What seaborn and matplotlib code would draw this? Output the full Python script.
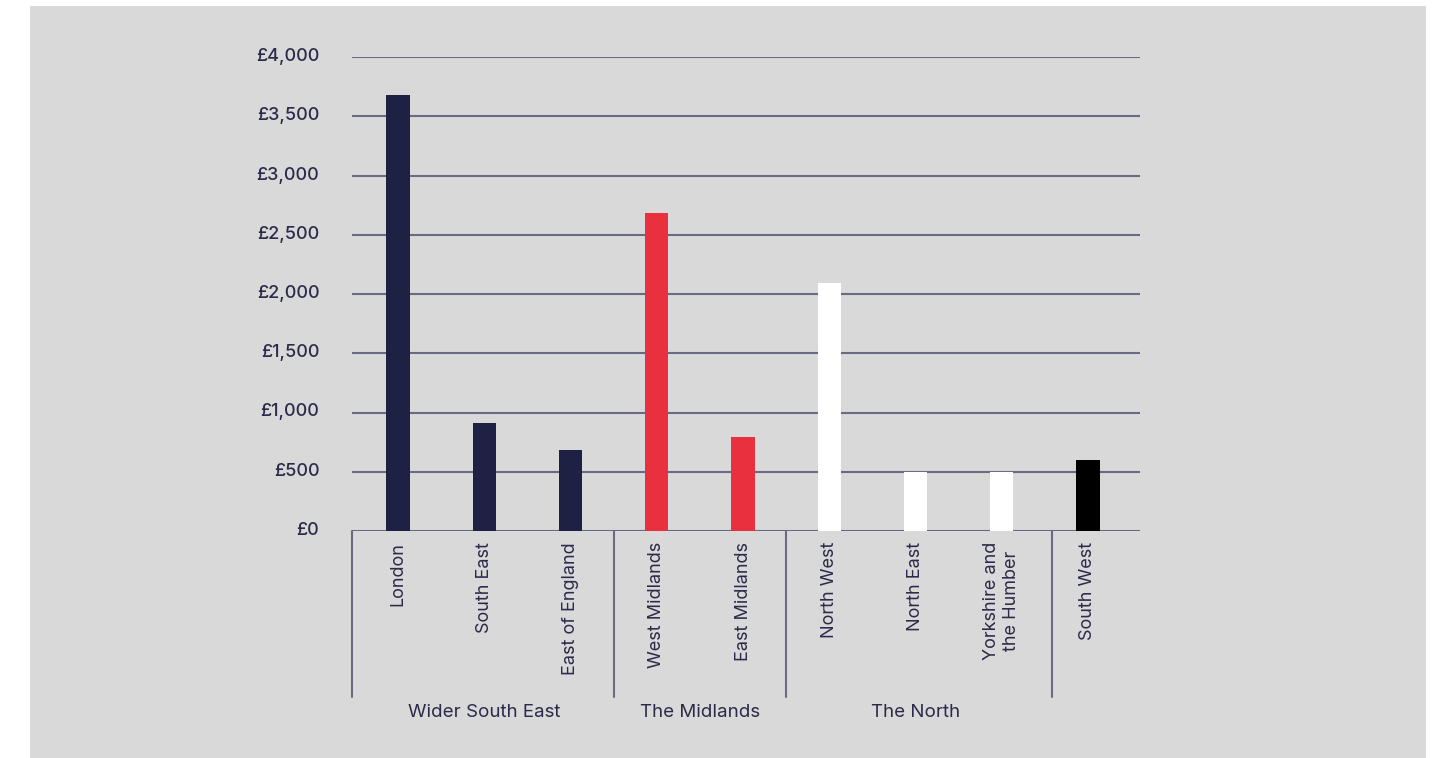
import matplotlib
matplotlib.use("Agg")
import matplotlib.pyplot as plt
import matplotlib.transforms as mtransforms
import seaborn as sns
import pandas as pd
from matplotlib.patches import Rectangle

regions = ["London", "South East", "East of England", "West Midlands", "East Midlands",
           "North West", "North East", "Yorkshire and\nthe Humber", "South West"]
values = [3680, 910, 680, 2680, 790, 2090, 500, 500, 600]
colors = ["#1f2144", "#1f2144", "#1f2144", "#e8303f", "#e8303f",
          "#ffffff", "#ffffff", "#ffffff", "#000000"]
groups = ["Wider South East", "The Midlands", "The North"]
group_members = [(0, 2), (3, 4), (5, 7)]
separators = [-0.534, 2.5, 4.5, 7.58]
yticks = [0, 500, 1000, 1500, 2000, 2500, 3000, 3500, 4000]

sns.set_style("white")
plt.rcParams['font.family'] = ['Inter', 'DejaVu Sans']
text_color = "#2b2a4a"
grid_color = "#6b6a85"

df = pd.DataFrame({"region": regions, "value": values})

fig = plt.figure(figsize=(14.36, 7.58), dpi=100, facecolor="white")
fig.patches.append(Rectangle((30/1436, 0), (1426-30)/1436, 1-6/758,
                             transform=fig.transFigure, facecolor="#d9d9d9",
                             edgecolor="none", zorder=-10))
ax = fig.add_axes([352/1436, 1-531/758, (1140-352)/1436, (531-57)/758])
ax.set_facecolor("none")

sns.barplot(data=df, x="region", y="value", hue="region", palette=colors,
            width=0.27, legend=False, ax=ax, saturation=1, zorder=3, linewidth=0)

ax.set_ylim(0, 4000)
ax.set_xlim(-0.534, 8.603)
ax.set_yticks(yticks)
ax.set_yticklabels([f"£{v:,}" for v in yticks], fontweight="medium")
for y in yticks:
    ax.axhline(y, color=grid_color, lw=1.5, zorder=1)

for s in ["top", "right", "left", "bottom"]:
    ax.spines[s].set_visible(False)

ax.tick_params(axis="y", length=0, pad=23.5, labelsize=13, labelcolor=text_color)
ax.tick_params(axis="x", length=0, pad=8, labelsize=13, labelcolor=text_color)
ax.set_xticks(range(len(regions)))
ax.set_xticklabels(regions, rotation=90, va="top", ha="center", multialignment="center")
ax.set_xlabel("")
ax.set_ylabel("")

offset = mtransforms.ScaledTranslation(0, 2.5 / 100, fig.dpi_scale_trans)
for lbl in ax.get_yticklabels():
    lbl.set_transform(lbl.get_transform() + offset)

trans = ax.get_xaxis_transform()
for xs in separators:
    ax.plot([xs, xs], [0, -0.35], transform=trans, color=grid_color, lw=1.5, clip_on=False)
for name, (a, b) in zip(groups, group_members):
    ax.text((a + b) / 2, -0.382, name, transform=trans, ha="center", va="center",
            fontsize=13.5, color=text_color)

fig.savefig("out.png", dpi=100, facecolor="white")
